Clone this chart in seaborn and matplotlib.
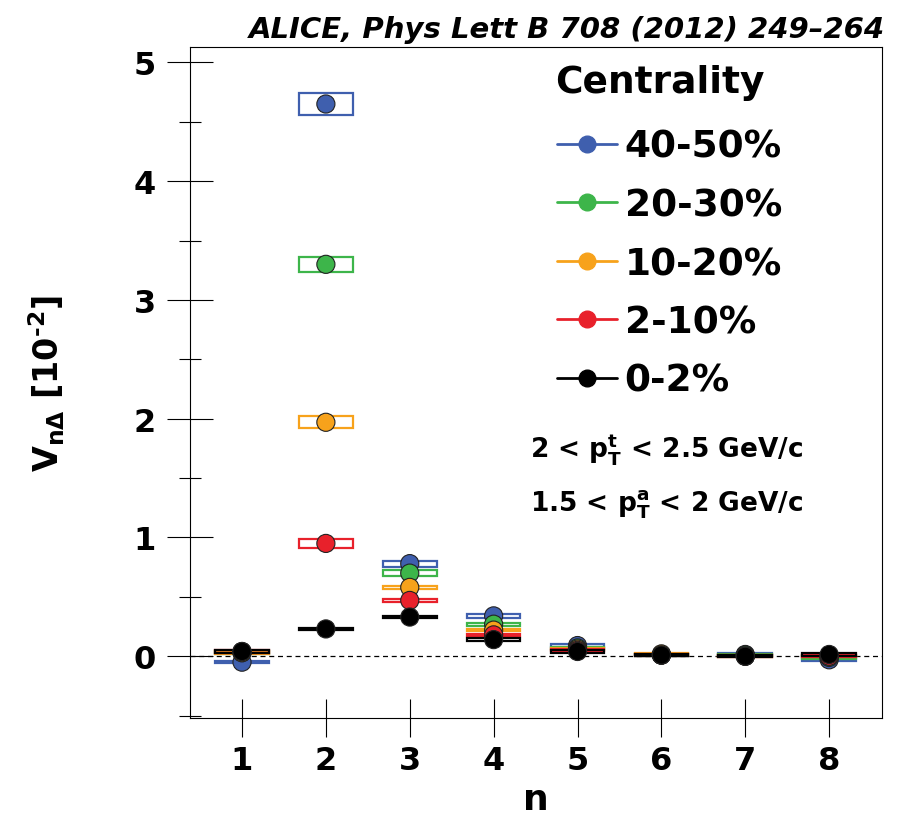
import numpy as np
import pandas as pd
import matplotlib
matplotlib.use("Agg")
import matplotlib.pyplot as plt
from matplotlib.patches import Rectangle
from matplotlib.lines import Line2D
from matplotlib.ticker import MultipleLocator
import seaborn as sns

# ---------------- data (in units of 10^-2) ----------------
harmonics = [1, 2, 3, 4, 5, 6, 7, 8]
centralities = ["40-50%", "20-30%", "10-20%", "2-10%", "0-2%"]
colors = ["#3f5fae", "#3db54a", "#f7a21b", "#e8212b", "#000000"]

v_40_50 = [-0.05, 4.65, 0.78, 0.34, 0.09, 0.01, 0.015, -0.03]
v_20_30 = [0.03, 3.30, 0.70, 0.27, 0.07, 0.01, 0.01, -0.01]
v_10_20 = [0.03, 1.97, 0.58, 0.22, 0.06, 0.02, 0.00, 0.00]
v_2_10 = [0.04, 0.95, 0.47, 0.18, 0.05, 0.01, 0.00, 0.00]
v_0_2 = [0.04, 0.23, 0.33, 0.14, 0.04, 0.01, 0.00, 0.015]

syst_40_50 = [0.01, 0.09, 0.025, 0.015, 0.01, 0.01, 0.01, 0.01]
syst_20_30 = [0.01, 0.065, 0.022, 0.012, 0.01, 0.01, 0.01, 0.01]
syst_10_20 = [0.01, 0.05, 0.012, 0.01, 0.01, 0.01, 0.01, 0.01]
syst_2_10 = [0.01, 0.04, 0.012, 0.01, 0.01, 0.01, 0.01, 0.01]
syst_0_2 = [0.01, 0.01, 0.012, 0.01, 0.01, 0.01, 0.01, 0.01]

values = [v_40_50, v_20_30, v_10_20, v_2_10, v_0_2]
systs = [syst_40_50, syst_20_30, syst_10_20, syst_2_10, syst_0_2]

rows = []
for c, vals, ss in zip(centralities, values, systs):
    for n, v, s in zip(harmonics, vals, ss):
        rows.append({"n": n, "v": v, "syst": s, "Centrality": c})
df = pd.DataFrame(rows)

# ---------------- style ----------------
sns.set_style("ticks")
plt.rcParams["font.family"] = ["DejaVu Sans"]
plt.rcParams["font.weight"] = "bold"
plt.rcParams["text.color"] = "black"
plt.rcParams["axes.labelcolor"] = "black"
plt.rcParams["xtick.color"] = "black"
plt.rcParams["ytick.color"] = "black"
plt.rcParams["mathtext.fontset"] = "custom"
plt.rcParams["mathtext.rm"] = "DejaVu Sans:bold"
plt.rcParams["mathtext.it"] = "DejaVu Sans:bold"
plt.rcParams["mathtext.bf"] = "DejaVu Sans:bold"

fig = plt.figure(figsize=(8.99, 8.29), dpi=100)
ax = fig.add_axes([190 / 899, 1 - 719 / 829, (882 - 190) / 899, (719 - 48) / 829])

# systematic boxes
half_w = 0.32
for c, col in zip(centralities, colors):
    sub = df[df["Centrality"] == c]
    for _, r in sub.iterrows():
        ax.add_patch(Rectangle((r["n"] - half_w, r["v"] - r["syst"]), 2 * half_w,
                               2 * r["syst"], fill=False, edgecolor=col,
                               linewidth=1.6, zorder=2))

# points
sns.scatterplot(data=df, x="n", y="v", hue="Centrality", hue_order=centralities,
                palette=colors, s=170, edgecolor="#222222", linewidth=0.8,
                legend=False, zorder=3, ax=ax)

ax.axhline(0, color="black", linestyle=(0, (4, 3)), linewidth=0.9, zorder=1)

ax.set_xlim(0.38, 8.63)
ax.set_ylim(-0.52, 5.13)
ax.set_xticks(harmonics)
ax.set_xticklabels([str(h) for h in harmonics])
ax.yaxis.set_major_locator(MultipleLocator(1))
ax.yaxis.set_minor_locator(MultipleLocator(0.5))
ax.tick_params(axis="y", which="major", direction="inout", length=33, width=0.8,
               pad=8, labelsize=23, left=True, right=False)
ax.tick_params(axis="y", which="minor", direction="inout", length=16.5, width=0.8,
               left=True, right=False)
ax.tick_params(axis="x", which="major", direction="inout", length=27, width=0.8,
               pad=6, labelsize=23, bottom=True, top=False)
for sp in ax.spines.values():
    sp.set_linewidth(0.8)
    sp.set_color("black")
    sp.set_visible(True)

ax.set_xlabel("n", fontsize=26, fontweight="bold", labelpad=4)
ax.set_ylabel(r"V$_{\mathrm{n}\Delta}$ [10$^{\text{-2}}$]", fontsize=24,
              fontweight="bold", labelpad=48)

# legend
handles = [Line2D([0], [0], color=col, marker="o", markersize=12, linewidth=2,
                  markeredgecolor=col) for col in colors]
leg = ax.legend(handles, centralities, loc="center left",
                bbox_to_anchor=(557 / 899, 1 - 265 / 829),
                bbox_transform=fig.transFigure, frameon=False, fontsize=27,
                handlelength=1.6, handletextpad=0.2, labelspacing=0.6,
                borderpad=0, borderaxespad=0)
fig.text(555 / 899, 1 - 83 / 829, "Centrality", ha="left", va="center",
         fontsize=27, fontweight="bold")

ax.text(667 / 899, 1 - 450 / 829, r"2 < p$_{\mathrm{T}}^{\mathrm{t}}$ < 2.5 GeV/c",
        transform=fig.transFigure, ha="center", va="center", fontsize=19,
        fontweight="bold")
ax.text(667 / 899, 1 - 505 / 829, r"1.5 < p$_{\mathrm{T}}^{\mathrm{a}}$ < 2 GeV/c",
        transform=fig.transFigure, ha="center", va="center", fontsize=19,
        fontweight="bold")

fig.text(885 / 899, 1 - 30 / 829, "ALICE, Phys Lett B 708 (2012) 249\u2013264",
         ha="right", va="center", fontsize=21, fontweight="bold", style="italic")

fig.savefig("out.png", dpi=100)
